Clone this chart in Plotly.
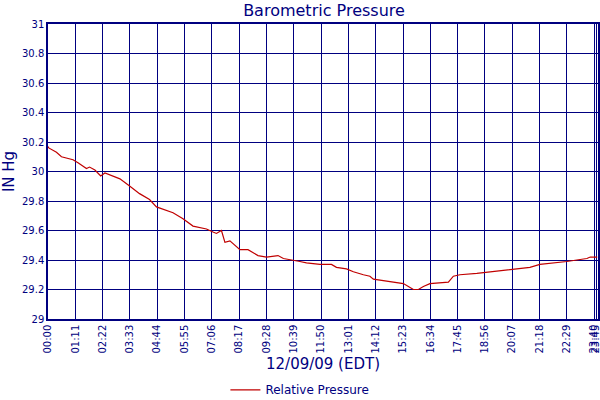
import plotly.graph_objects as go

# readings of the day, minutes after midnight and inches of mercury
minutes = [0, 2, 22, 35, 65, 78, 100, 108, 122, 137, 148, 187, 213, 238, 264,
           282, 325, 351, 377, 412, 429, 438, 451, 460, 473, 499, 520, 533,
           546, 568, 598, 612, 638, 655, 672, 707, 737, 750, 776, 794, 820,
           837, 846, 872, 898, 924, 937, 950, 963, 976, 993, 1028, 1041, 1054,
           1071, 1115, 1149, 1184, 1210, 1253, 1279, 1323, 1349, 1375, 1401,
           1410, 1428]
pressure = [30.17, 30.16, 30.13, 30.10, 30.08, 30.06, 30.02, 30.03, 30.01,
            29.97, 29.99, 29.95, 29.90, 29.85, 29.81, 29.76, 29.72, 29.68,
            29.63, 29.61, 29.59, 29.58, 29.60, 29.52, 29.53, 29.47, 29.47,
            29.45, 29.43, 29.42, 29.43, 29.41, 29.40, 29.39, 29.38, 29.37,
            29.37, 29.35, 29.34, 29.32, 29.30, 29.29, 29.27, 29.26, 29.25,
            29.24, 29.22, 29.20, 29.20, 29.22, 29.24, 29.25, 29.25, 29.29,
            29.30, 29.31, 29.32, 29.33, 29.34, 29.35, 29.37, 29.38, 29.39,
            29.40, 29.41, 29.42, 29.42]

tick_minutes = [0, 71, 142, 213, 284, 355, 426, 497, 568, 639, 710, 781, 852,
                923, 994, 1065, 1136, 1207, 1278, 1349, 1420, 1425]
tick_labels = ["00:00", "01:11", "02:22", "03:33", "04:44", "05:55", "07:06",
               "08:17", "09:28", "10:39", "11:50", "13:01", "14:12", "15:23",
               "16:34", "17:45", "18:56", "20:07", "21:18", "22:29", "23:40",
               "23:45"]

navy = "#000080"
font = "DejaVu Sans"

fig = go.Figure(go.Scatter(x=minutes, y=pressure, mode="lines",
                           name="Relative Pressure",
                           line=dict(color="#c00000", width=1.2)))

fig.update_layout(
    width=600, height=400,
    paper_bgcolor="white", plot_bgcolor="white",
    margin=dict(l=48, r=2, t=24, b=81, autoexpand=False),
    title=dict(text="Barometric Pressure", x=0.54, xanchor="center",
               yref="container", y=0.975, yanchor="middle",
               font=dict(family=font, size=16, color=navy)),
    font=dict(family=font, color=navy),
    showlegend=True,
    legend=dict(orientation="h", x=0.458, xanchor="center", y=-0.24,
                yanchor="middle", itemwidth=30,
                font=dict(size=12, color=navy)),
)

fig.update_xaxes(range=[0, 1430], tickmode="array", tickvals=tick_minutes,
                 ticktext=tick_labels, tickangle=-90, automargin=False,
                 ticklabeloverflow="allow",
                 tickfont=dict(size=10, color=navy),
                 showgrid=True, gridcolor=navy, gridwidth=1.2,
                 showline=True, linecolor=navy, linewidth=1.5, mirror=True,
                 zeroline=False, ticks="",
                 title=dict(text="12/09/09 (EDT)", standoff=6,
                            font=dict(size=15, color=navy)))
fig.update_yaxes(range=[29, 31], dtick=0.2, tickformat="~g",
                 automargin=False,
                 tickfont=dict(size=10, color=navy),
                 showgrid=True, gridcolor=navy, gridwidth=1.2,
                 showline=True, linecolor=navy, linewidth=1.5, mirror=True,
                 zeroline=False, ticks="",
                 title=dict(text="IN Hg", standoff=8,
                            font=dict(size=15, color=navy)))

# the page body has an 8px margin by default, drop it so the chart fills the window
fig.write_html("out.html", config={"displayModeBar": False},
               post_script="document.body.style.margin='0';")
